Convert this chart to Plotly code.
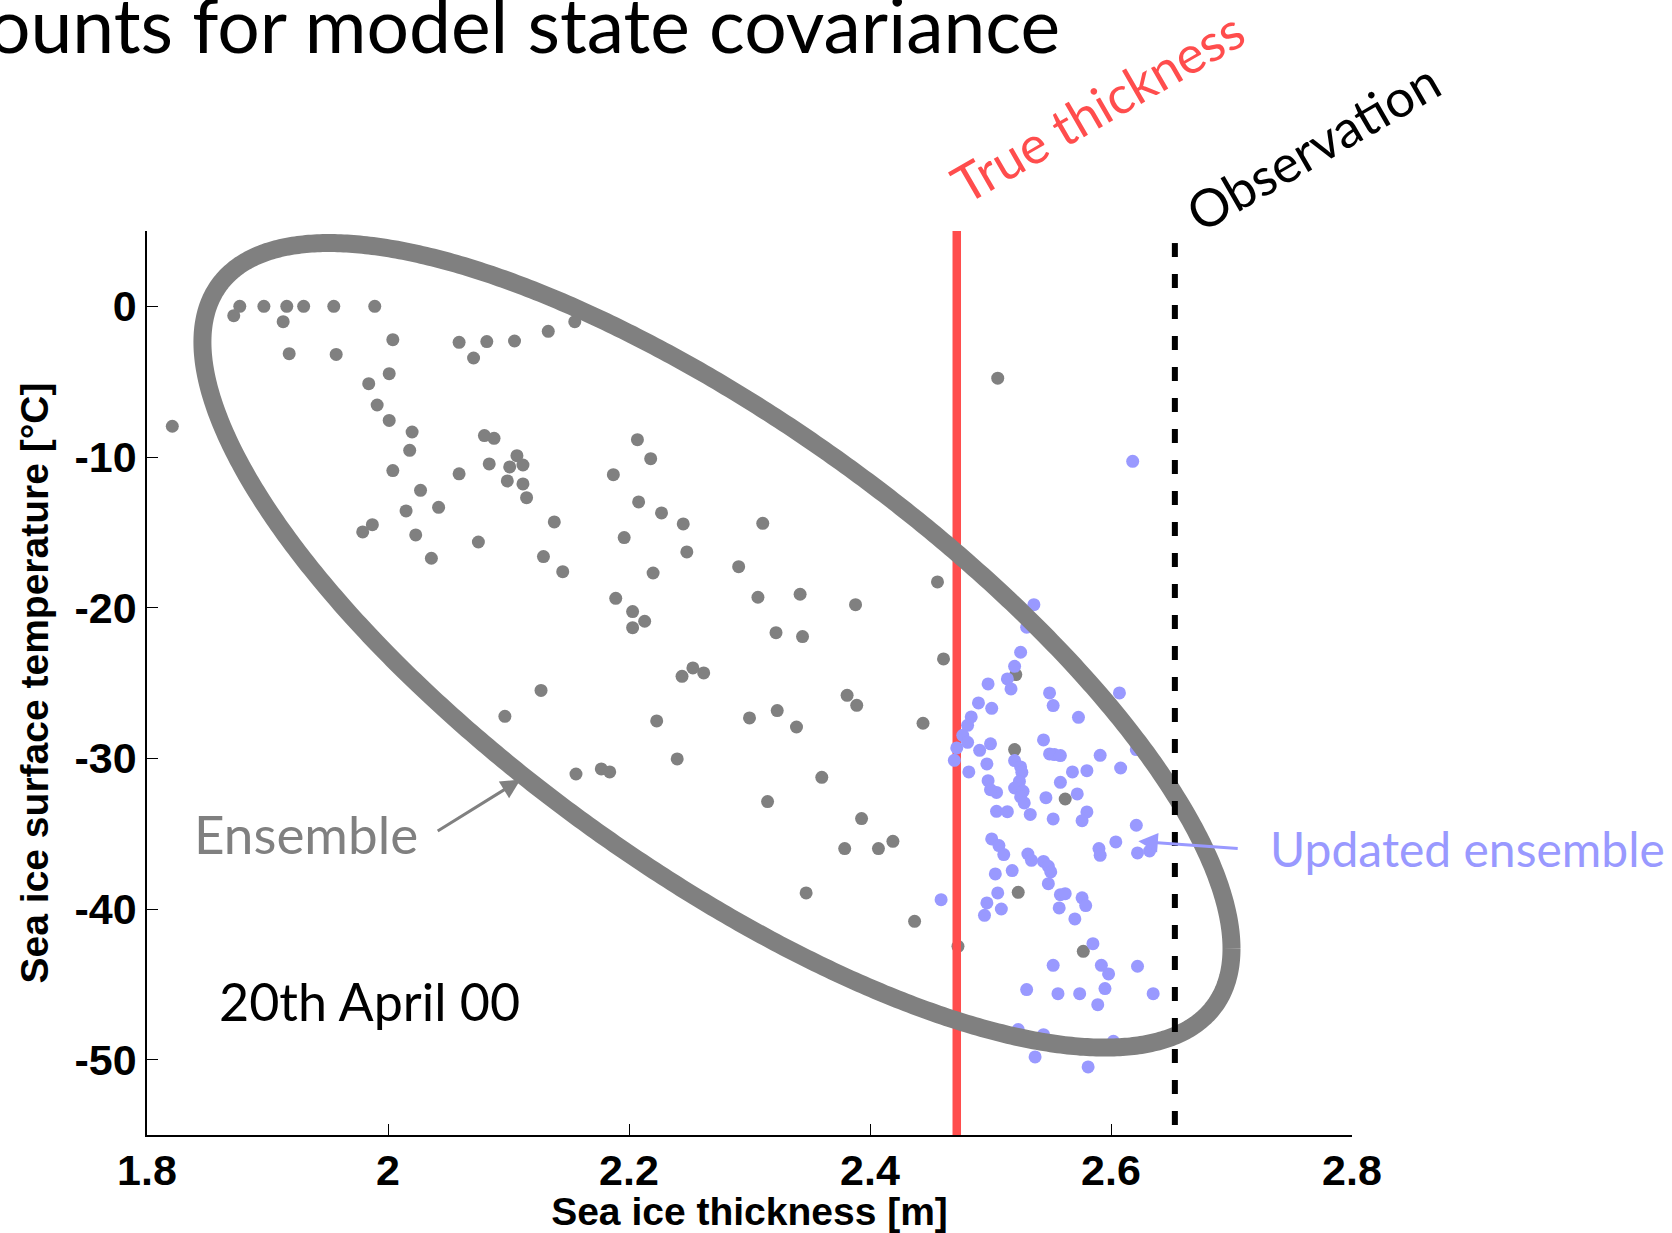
import numpy as np
import plotly.graph_objects as go

# Prior ensemble: sea ice thickness [m] and surface temperature [degC]
prior_thickness = [
    1.821, 1.872, 1.877, 1.897, 1.916, 1.913, 1.930, 1.918, 1.955, 1.957,
    1.989, 2.004, 2.001, 1.984, 1.991, 2.001, 2.020, 2.018, 2.004, 2.027,
    2.015, 2.042, 1.987, 1.979, 2.023, 2.036, 2.059, 2.071, 2.082, 2.105,
    2.133, 2.155, 2.080, 2.088, 2.084, 2.059, 2.107, 2.101, 2.112, 2.099,
    2.112, 2.115, 2.075, 2.138, 2.129, 2.145, 2.127, 2.207, 2.218, 2.187,
    2.208, 2.227, 2.196, 2.220, 2.189, 2.203, 2.213, 2.203,
    2.245, 2.248, 2.311, 2.291, 2.307, 2.342, 2.388, 2.322, 2.344, 2.456,
    2.461, 2.253, 2.244, 2.262, 2.381, 2.389, 2.223, 2.300, 2.323, 2.339,
    2.444, 2.240, 2.360, 2.315, 2.393, 2.379, 2.407, 2.419, 2.347, 2.437,
    2.097, 2.156, 2.177, 2.184,
    2.506, 2.473, 2.521, 2.520, 2.562, 2.523, 2.577,
]
prior_temperature = [
    -7.96, -0.62, 0.00, 0.00, 0.00, -1.02, 0.00, -3.14, 0.00, -3.19,
    0.00, -2.21, -4.47, -5.13, -6.55, -7.57, -8.34, -9.56, -10.90, -12.21,
    -13.58, -13.34, -14.49, -14.97, -15.17, -16.72, -2.39, -3.43, -2.34, -2.30,
    -1.66, -1.02, -8.58, -8.76, -10.46, -11.12, -9.91, -10.66, -10.53, -11.59,
    -11.79, -12.70, -15.64, -14.31, -16.61, -17.61, -25.49, -8.85, -10.11, -11.17,
    -12.98, -13.71, -15.35, -17.70, -19.38, -20.26, -20.90, -21.33,
    -14.44, -16.30, -14.40, -17.28, -19.31, -19.11, -19.80, -21.66, -21.92, -18.29,
    -23.40, -24.00, -24.56, -24.33, -25.82, -26.48, -27.52, -27.32, -26.83, -27.92,
    -27.67, -30.04, -31.26, -32.87, -34.00, -35.99, -35.99, -35.51, -38.93, -40.82,
    -27.21, -31.04, -30.70, -30.90,
    -4.77, -42.48, -24.44, -29.42, -32.70, -38.89, -42.81,
]

# Updated (analysis) ensemble after assimilating the thickness observation
updated_thickness = [
    2.618, 2.536, 2.530, 2.525, 2.520, 2.514, 2.517, 2.498, 2.490, 2.501,
    2.484, 2.481, 2.477, 2.481, 2.472, 2.470, 2.482, 2.491, 2.500, 2.497,
    2.498, 2.505, 2.500, 2.505, 2.514, 2.520, 2.525, 2.526, 2.524, 2.520,
    2.527, 2.525, 2.528, 2.533, 2.549, 2.552, 2.573, 2.607, 2.544, 2.549,
    2.553, 2.558, 2.591, 2.621, 2.608, 2.580, 2.568, 2.558, 2.546, 2.572,
    2.580, 2.576, 2.552, 2.621,
    2.501, 2.507, 2.511, 2.504, 2.518, 2.531, 2.534, 2.544, 2.548, 2.550,
    2.548, 2.506, 2.497, 2.495, 2.509, 2.459, 2.558, 2.562, 2.557, 2.576,
    2.579, 2.570, 2.590, 2.591, 2.604, 2.622, 2.632, 2.585, 2.552, 2.592,
    2.598, 2.622, 2.530, 2.556, 2.574, 2.595, 2.589, 2.635, 2.523, 2.544,
    2.602, 2.537, 2.581,
]
updated_temperature = [
    -10.29, -19.80, -21.30, -22.96, -23.89, -24.73, -25.39, -25.06, -26.32, -26.68,
    -27.25, -27.81, -28.47, -28.94, -29.31, -30.13, -30.90, -29.47, -29.04, -30.37,
    -31.48, -32.26, -32.08, -33.52, -33.54, -30.15, -30.57, -30.93, -31.53, -31.97,
    -32.19, -32.56, -32.96, -33.72, -25.66, -26.50, -27.28, -25.66, -28.78, -29.71,
    -29.75, -29.82, -29.80, -29.42, -30.64, -30.82, -30.90, -31.59, -32.61, -32.36,
    -33.56, -34.14, -34.02, -34.44,
    -35.35, -35.79, -36.39, -37.67, -37.45, -36.35, -36.77, -36.84, -37.17, -37.54,
    -38.32, -38.93, -39.60, -40.42, -40.00, -39.38, -39.05, -38.98, -39.93, -39.26,
    -39.77, -40.66, -35.99, -36.44, -35.55, -36.28, -36.15, -42.30, -43.74, -43.74,
    -44.31, -43.80, -45.35, -45.62, -45.62, -45.28, -46.35, -45.62, -48.00, -48.34,
    -48.78, -49.82, -50.48,
]

true_thickness = 2.472
observed_thickness = 2.653

# Covariance ellipse of the prior ensemble (centre, half-extents, correlation)
ell_center = (2.273, -22.5)
ell_half_x = 0.427
ell_half_y = 26.7
ell_corr = -0.754

x_ticks = [1.8, 2.0, 2.2, 2.4, 2.6, 2.8]
x_tick_text = ["1.8", "2", "2.2", "2.4", "2.6", "2.8"]
y_ticks = [0, -10, -20, -30, -40, -50]
y_tick_text = ["0", "-10", "-20", "-30", "-40", "-50"]

GRAY = "#808080"
BLUE = "#9999FF"
RED = "#FF4D4D"
Y_MIN, Y_MAX = -55, 5

t = np.linspace(0, 2 * np.pi, 721)
ell_x = ell_center[0] + ell_half_x * np.cos(t)
ell_y = ell_center[1] + ell_half_y * (ell_corr * np.cos(t) + np.sqrt(1 - ell_corr ** 2) * np.sin(t))

fig = go.Figure()

fig.add_trace(go.Scatter(
    x=prior_thickness, y=prior_temperature, mode="markers",
    marker=dict(size=13, color=GRAY, line=dict(width=0)), name="Ensemble",
))
fig.add_trace(go.Scatter(
    x=[true_thickness, true_thickness], y=[Y_MAX, Y_MIN], mode="lines",
    line=dict(color=RED, width=8.5), name="True thickness",
))
fig.add_trace(go.Scatter(
    x=updated_thickness, y=updated_temperature, mode="markers",
    marker=dict(size=13, color=BLUE, line=dict(width=0)), name="Updated ensemble",
))
fig.add_trace(go.Scatter(
    x=ell_x, y=ell_y, mode="lines",
    line=dict(color=GRAY, width=18, simplify=False), name="Covariance",
))
fig.add_trace(go.Scatter(
    x=[observed_thickness, observed_thickness], y=[4.2, Y_MIN], mode="lines",
    line=dict(color="black", width=6, dash="14px,17px"), name="Observation",
))

TEXT_FONT = "Lato"

annotations = [
    dict(text="ounts for model state covariance", xref="paper", yref="paper",
         x=-0.134, y=1.229, xanchor="left", yanchor="middle", showarrow=False,
         font=dict(family=TEXT_FONT, size=75, color="black")),
    dict(text="True thickness", xref="paper", yref="paper",
         x=0.789, y=1.1385, xanchor="center", yanchor="middle", showarrow=False,
         textangle=-30, font=dict(family=TEXT_FONT, size=52, color=RED)),
    dict(text="Observation", xref="paper", yref="paper",
         x=0.9676, y=1.094, xanchor="center", yanchor="middle", showarrow=False,
         textangle=-30, font=dict(family=TEXT_FONT, size=52, color="black")),
    dict(text="Ensemble", xref="x", yref="y", x=1.837, y=-35.0,
         xanchor="left", yanchor="middle", showarrow=False,
         font=dict(family=TEXT_FONT, size=53, color=GRAY)),
    dict(text="", xref="x", yref="y", x=2.110, y=-31.41,
         axref="x", ayref="y", ax=2.040, ay=-34.88, showarrow=True,
         arrowhead=2, arrowsize=1.3, arrowwidth=3, arrowcolor=GRAY),
    dict(text="20th April 00", xref="x", yref="y", x=1.858, y=-46.1,
         xanchor="left", yanchor="middle", showarrow=False,
         font=dict(family=TEXT_FONT, size=52, color="black")),
    dict(text="Updated ensemble", xref="x", yref="y", x=2.7300, y=-36.0,
         xanchor="left", yanchor="middle", showarrow=False,
         font=dict(family=TEXT_FONT, size=48, color=BLUE)),
    dict(text="", xref="x", yref="y", x=2.6227, y=-35.51,
         axref="x", ayref="y", ax=2.7064, ay=-35.99, showarrow=True,
         arrowhead=2, arrowsize=1.3, arrowwidth=3, arrowcolor=BLUE),
]

axis_font = dict(family="Liberation Sans", size=43, color="black", weight="bold")
title_font = dict(family="Liberation Sans", size=39, color="black", weight="bold")

fig.update_layout(
    width=1672, height=1233,
    margin=dict(l=147, r=320, t=231, b=98),
    paper_bgcolor="white", plot_bgcolor="white",
    showlegend=False,
    annotations=annotations,
    xaxis=dict(
        range=[1.8, 2.8], tickvals=x_ticks, ticktext=x_tick_text,
        ticks="inside", ticklen=11, tickwidth=1.2, tickcolor="black",
        showline=True, linecolor="black", linewidth=1.5,
        showgrid=False, zeroline=False, tickfont=axis_font,
        ticklabelstandoff=-3, automargin=False,
        title=dict(text="Sea ice thickness [m]", font=title_font, standoff=6),
    ),
    yaxis=dict(
        range=[Y_MIN, Y_MAX], tickvals=y_ticks, ticktext=y_tick_text,
        ticks="inside", ticklen=11, tickwidth=1.2, tickcolor="black",
        showline=True, linecolor="black", linewidth=1.5,
        showgrid=False, zeroline=False, tickfont=axis_font,
        automargin=False,
        title=dict(text="Sea ice surface temperature [°C]", font=title_font, standoff=14),
    ),
)

fig.write_html("out.html")
